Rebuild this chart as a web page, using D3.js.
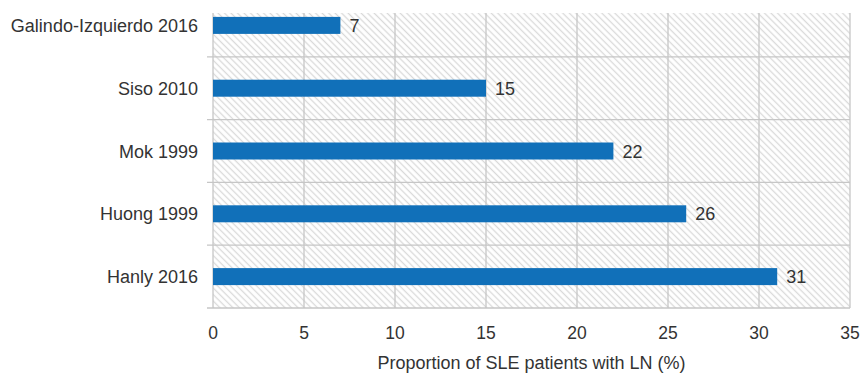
<!DOCTYPE html>
<html>
<head>
<meta charset="utf-8">
<script src="https://cdn.jsdelivr.net/npm/d3@7"></script>
<style>
  html, body { margin: 0; padding: 0; background: #fff; }
  text { font-family: "Liberation Sans", Arial, sans-serif; fill: #333; }
</style>
</head>
<body>
<svg id="chart" width="861" height="374"></svg>
<script>
// Studies and reported proportion of SLE patients with lupus nephritis
const studies = ["Galindo-Izquierdo 2016", "Siso 2010", "Mok 1999", "Huong 1999", "Hanly 2016"];
const proportions = [7, 15, 22, 26, 31];
const xTicks = [0, 5, 10, 15, 20, 25, 30, 35];
const xTitle = "Proportion of SLE patients with LN (%)";

const svg = d3.select("#chart");
const plot = { left: 213, right: 850, top: 13, bottom: 308 };
const fontSize = 18;

const x = d3.scaleLinear().domain([0, 35]).range([plot.left, plot.right]);
// first band extends above the frame, so only its lower part is visible
const y = d3.scaleBand().domain(studies).range([-6, plot.bottom]);
const barH = 17;

// diagonal hatch fill for the plotting area
const defs = svg.append("defs");
const pat = defs.append("pattern")
  .attr("id", "hatch")
  .attr("patternUnits", "userSpaceOnUse")
  .attr("width", 4.6).attr("height", 4.6)
  .attr("patternTransform", "rotate(45)");
pat.append("rect").attr("width", 4.6).attr("height", 4.6).attr("fill", "#fff");
pat.append("line")
  .attr("x1", 0).attr("y1", 2.3).attr("x2", 4.6).attr("y2", 2.3)
  .attr("stroke", "#d9d9d9").attr("stroke-width", 1.3);

svg.append("rect")
  .attr("x", plot.left).attr("y", plot.top)
  .attr("width", plot.right - plot.left).attr("height", plot.bottom - plot.top)
  .attr("fill", "url(#hatch)");

const gridColor = "#c6c6c6";

// vertical grid lines
svg.append("g").selectAll("line").data(xTicks).join("line")
  .attr("x1", d => x(d)).attr("x2", d => x(d))
  .attr("y1", plot.top).attr("y2", plot.bottom)
  .attr("stroke", gridColor).attr("stroke-width", 1.3);

// horizontal separators between studies, with short ticks to the left
const seps = studies.slice(1).map(s => y(s));
svg.append("g").selectAll("line").data(seps).join("line")
  .attr("x1", plot.left - 6).attr("x2", plot.right)
  .attr("y1", d => d).attr("y2", d => d)
  .attr("stroke", gridColor).attr("stroke-width", 1.3);

// bottom axis line
svg.append("line")
  .attr("x1", plot.left - 6).attr("x2", plot.right)
  .attr("y1", plot.bottom).attr("y2", plot.bottom)
  .attr("stroke", gridColor).attr("stroke-width", 1.5);

// bars
svg.append("g").selectAll("rect").data(studies).join("rect")
  .attr("x", x(0))
  .attr("y", (d) => y(d) + y.bandwidth() / 2 - barH / 2)
  .attr("width", (d, i) => x(proportions[i]) - x(0))
  .attr("height", barH)
  .attr("fill", "#1170b9");

// value labels
svg.append("g").selectAll("text").data(studies).join("text")
  .attr("x", (d, i) => x(proportions[i]) + 9)
  .attr("y", d => y(d) + y.bandwidth() / 2 + 6.5)
  .attr("font-size", fontSize)
  .text((d, i) => proportions[i]);

// category labels
svg.append("g").selectAll("text").data(studies).join("text")
  .attr("x", 198)
  .attr("y", d => y(d) + y.bandwidth() / 2 + 6.5)
  .attr("text-anchor", "end")
  .attr("font-size", fontSize)
  .text(d => d);

// x tick labels
svg.append("g").selectAll("text").data(xTicks).join("text")
  .attr("x", d => x(d))
  .attr("y", 338.5)
  .attr("text-anchor", "middle")
  .attr("font-size", 17.5)
  .text(d => d);

// x axis title
svg.append("text")
  .attr("x", (plot.left + plot.right) / 2)
  .attr("y", 369)
  .attr("text-anchor", "middle")
  .attr("font-size", fontSize)
  .text(xTitle);
</script>
</body>
</html>
